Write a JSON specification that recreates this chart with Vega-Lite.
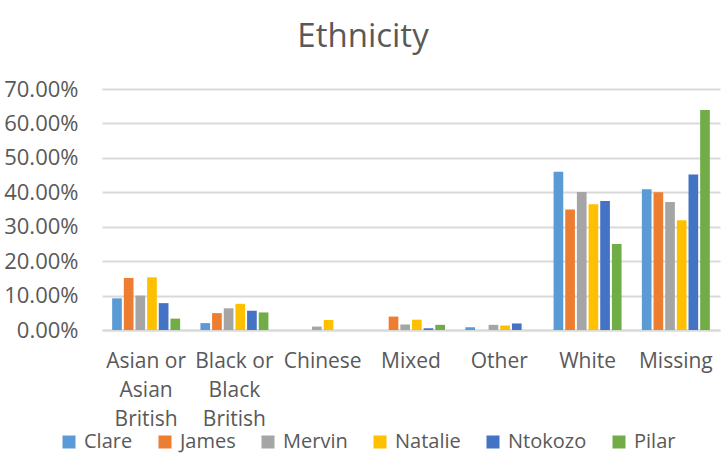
{
  "$schema": "https://vega.github.io/schema/vega-lite/v6.json",
  "width": 618,
  "height": 241,
  "autosize": {"type": "none"},
  "padding": {"left": 102, "top": 89, "right": 1, "bottom": 132},
  "background": "white",
  "title": {
    "text": "Ethnicity",
    "font": "Open Sans",
    "fontSize": 33,
    "fontWeight": "normal",
    "color": "#595959",
    "anchor": "middle",
    "dx": -48,
    "offset": 24
  },
  "config": {
    "view": {"stroke": null},
    "font": "Open Sans"
  },
  "data": {
    "values": [
      {"ethnicity": "Asian or Asian British", "person": "Clare", "value": 0.092},
      {"ethnicity": "Asian or Asian British", "person": "James", "value": 0.151},
      {"ethnicity": "Asian or Asian British", "person": "Mervin", "value": 0.100},
      {"ethnicity": "Asian or Asian British", "person": "Natalie", "value": 0.153},
      {"ethnicity": "Asian or Asian British", "person": "Ntokozo", "value": 0.078},
      {"ethnicity": "Asian or Asian British", "person": "Pilar", "value": 0.033},
      {"ethnicity": "Black or Black British", "person": "Clare", "value": 0.020},
      {"ethnicity": "Black or Black British", "person": "James", "value": 0.049},
      {"ethnicity": "Black or Black British", "person": "Mervin", "value": 0.063},
      {"ethnicity": "Black or Black British", "person": "Natalie", "value": 0.076},
      {"ethnicity": "Black or Black British", "person": "Ntokozo", "value": 0.056},
      {"ethnicity": "Black or Black British", "person": "Pilar", "value": 0.051},
      {"ethnicity": "Chinese", "person": "Clare", "value": 0},
      {"ethnicity": "Chinese", "person": "James", "value": 0},
      {"ethnicity": "Chinese", "person": "Mervin", "value": 0.010},
      {"ethnicity": "Chinese", "person": "Natalie", "value": 0.029},
      {"ethnicity": "Chinese", "person": "Ntokozo", "value": 0},
      {"ethnicity": "Chinese", "person": "Pilar", "value": 0},
      {"ethnicity": "Mixed", "person": "Clare", "value": 0},
      {"ethnicity": "Mixed", "person": "James", "value": 0.039},
      {"ethnicity": "Mixed", "person": "Mervin", "value": 0.016},
      {"ethnicity": "Mixed", "person": "Natalie", "value": 0.030},
      {"ethnicity": "Mixed", "person": "Ntokozo", "value": 0.005},
      {"ethnicity": "Mixed", "person": "Pilar", "value": 0.015},
      {"ethnicity": "Other", "person": "Clare", "value": 0.008},
      {"ethnicity": "Other", "person": "James", "value": 0},
      {"ethnicity": "Other", "person": "Mervin", "value": 0.015},
      {"ethnicity": "Other", "person": "Natalie", "value": 0.013},
      {"ethnicity": "Other", "person": "Ntokozo", "value": 0.019},
      {"ethnicity": "Other", "person": "Pilar", "value": 0},
      {"ethnicity": "White", "person": "Clare", "value": 0.460},
      {"ethnicity": "White", "person": "James", "value": 0.350},
      {"ethnicity": "White", "person": "Mervin", "value": 0.401},
      {"ethnicity": "White", "person": "Natalie", "value": 0.365},
      {"ethnicity": "White", "person": "Ntokozo", "value": 0.375},
      {"ethnicity": "White", "person": "Pilar", "value": 0.250},
      {"ethnicity": "Missing", "person": "Clare", "value": 0.409},
      {"ethnicity": "Missing", "person": "James", "value": 0.400},
      {"ethnicity": "Missing", "person": "Mervin", "value": 0.372},
      {"ethnicity": "Missing", "person": "Natalie", "value": 0.319},
      {"ethnicity": "Missing", "person": "Ntokozo", "value": 0.452},
      {"ethnicity": "Missing", "person": "Pilar", "value": 0.639}
    ]
  },
  "mark": {"type": "bar"},
  "encoding": {
    "x": {
      "field": "ethnicity",
      "type": "nominal",
      "sort": ["Asian or Asian British", "Black or Black British", "Chinese", "Mixed", "Other", "White", "Missing"],
      "scale": {"paddingInner": 0.23, "paddingOuter": 0.115},
      "axis": {
        "title": null,
        "labelAngle": 0,
        "labelFontSize": 21,
        "labelColor": "#595959",
        "labelPadding": 20,
        "labelLineHeight": 29,
        "labelBaseline": "top",
        "labelOverlap": false,
        "labelBound": false,
        "ticks": false,
        "domain": true,
        "domainColor": "#d9d9d9",
        "domainWidth": 2,
        "labelExpr": "datum.value == 'Asian or Asian British' ? ['Asian or', 'Asian', 'British'] : datum.value == 'Black or Black British' ? ['Black or', 'Black', 'British'] : datum.value"
      }
    },
    "xOffset": {
      "field": "person",
      "type": "nominal",
      "scale": {"paddingInner": 0.17}
    },
    "y": {
      "field": "value",
      "type": "quantitative",
      "scale": {"domain": [0, 0.7], "nice": false},
      "axis": {
        "title": null,
        "values": [0, 0.1, 0.2, 0.3, 0.4, 0.5, 0.6, 0.7],
        "format": ".2%",
        "labelFontSize": 22,
        "labelColor": "#595959",
        "labelPadding": 24,
        "ticks": false,
        "domain": false,
        "gridColor": "#d9d9d9",
        "gridWidth": 2
      }
    },
    "color": {
      "field": "person",
      "type": "nominal",
      "scale": {
        "domain": ["Clare", "James", "Mervin", "Natalie", "Ntokozo", "Pilar"],
        "range": ["#5B9BD5", "#ED7D31", "#A5A5A5", "#FFC000", "#4472C4", "#70AD47"]
      },
      "legend": {
        "title": null,
        "orient": "none",
        "direction": "horizontal",
        "legendX": -43,
        "legendY": 343,
        "symbolType": "square",
        "symbolSize": 169,
        "symbolStrokeWidth": 0,
        "labelFontSize": 20,
        "labelColor": "#595959",
        "labelOffset": 5,
        "columnPadding": 22
      }
    }
  }
}
